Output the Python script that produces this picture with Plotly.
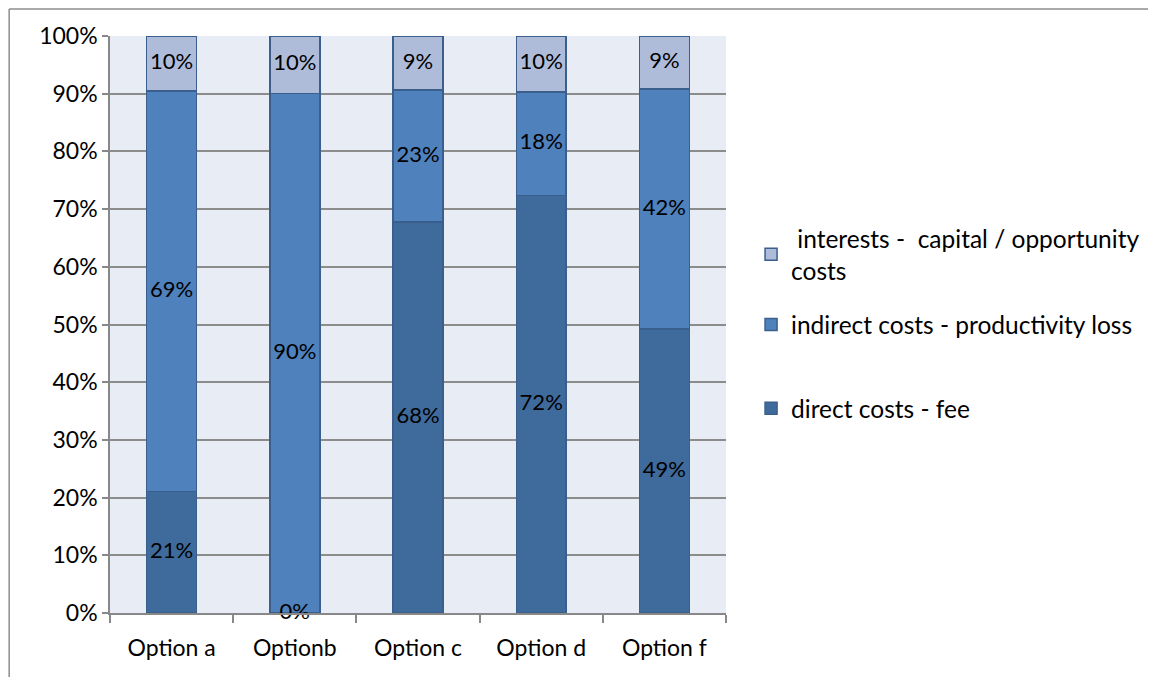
import plotly.graph_objects as go

# categories and stacked shares (percent of total cost)
options = ["Option a", "Optionb", "Option c", "Option d", "Option f"]
direct_fee = [21.1, 0.0, 67.8, 72.4, 49.2]
indirect_loss = [69.4, 90.0, 22.8, 17.9, 41.6]
interests = [9.5, 10.0, 9.4, 9.7, 9.2]

series_names = [
    "direct costs - fee",
    "indirect costs - productivity loss",
    "\u00a0interests -\u00a0 capital / opportunity<br>costs",
]
series_values = [direct_fee, indirect_loss, interests]
colors = ["#3F6A9C", "#4F81BD", "#AEBCDA"]
legend_ids = ["legend2", "legend2", "legend"]
ranks = [3, 2, 1]

tick_vals = list(range(0, 101, 10))
tick_text = [f"{v}%" for v in tick_vals]

FONT = "Lato, Open Sans, sans-serif"
FS = 23
LFS = 24.5

fig = go.Figure()
for name, vals, col, lg, rk in zip(series_names, series_values, colors, legend_ids, ranks):
    fig.add_trace(go.Bar(
        x=options, y=vals, name=name,
        marker=dict(color=col, line=dict(color="#3A5F8C", width=1.5)),
        legend=lg, legendrank=rk, legendgroup=name,
        hoverinfo="skip",
    ))

# data labels centred in each segment
lab_x, lab_y, lab_t = [], [], []
for j, opt in enumerate(options):
    base = 0
    for vals in series_values:
        v = vals[j]
        lab_x.append(opt)
        lab_y.append(base + v / 2)
        lab_t.append(f"{round(v)}%")
        base += v
fig.add_trace(go.Scatter(
    x=lab_x, y=lab_y, text=lab_t, mode="text",
    textfont=dict(family=FONT, size=FS - 1, color="black"),
    showlegend=False, hoverinfo="skip", cliponaxis=False,
))

# page has an 8px body margin, so the figure is a bit smaller than the window
fig.update_layout(
    width=1148, height=669,
    barmode="stack", bargap=0.595,
    paper_bgcolor="white", plot_bgcolor="#E8ECF4",
    margin=dict(l=102, r=429, t=28, b=64),
    font=dict(family=FONT, size=FS, color="black"),
    legend=dict(
        x=1.039, y=0.688, xanchor="left", yanchor="top",
        traceorder="normal", font=dict(size=LFS), itemwidth=30,
    ),
    legend2=dict(
        x=1.039, y=0.539, xanchor="left", yanchor="top",
        traceorder="grouped", tracegroupgap=49, font=dict(size=LFS), itemwidth=30,
    ),
    xaxis=dict(
        showline=True, linecolor="#888888", linewidth=1.5,
        ticks="outside", tickson="boundaries", ticklen=8,
        tickcolor="#888888", tickwidth=1.5, ticklabelstandoff=14,
    ),
    yaxis=dict(
        range=[0, 100], tickvals=tick_vals, ticktext=tick_text,
        showline=True, linecolor="#888888", linewidth=1.5,
        ticks="outside", ticklen=6, tickcolor="#888888", tickwidth=1.5,
        showgrid=True, gridcolor="#8C8C8C", gridwidth=1.5,
        zeroline=False,
    ),
    shapes=[
        dict(type="line", xref="paper", yref="paper",
             x0=(9 - 110) / 617, x1=(1160 - 110) / 617,
             y0=(613 - 9) / 577, y1=(613 - 9) / 577,
             line=dict(color="#8C8C8C", width=1.5)),
        dict(type="line", xref="paper", yref="paper",
             x0=(9 - 110) / 617, x1=(9 - 110) / 617,
             y0=(613 - 9) / 577, y1=(613 - 680) / 577,
             line=dict(color="#8C8C8C", width=1.5)),
    ],
)

fig.write_html("out.html")
